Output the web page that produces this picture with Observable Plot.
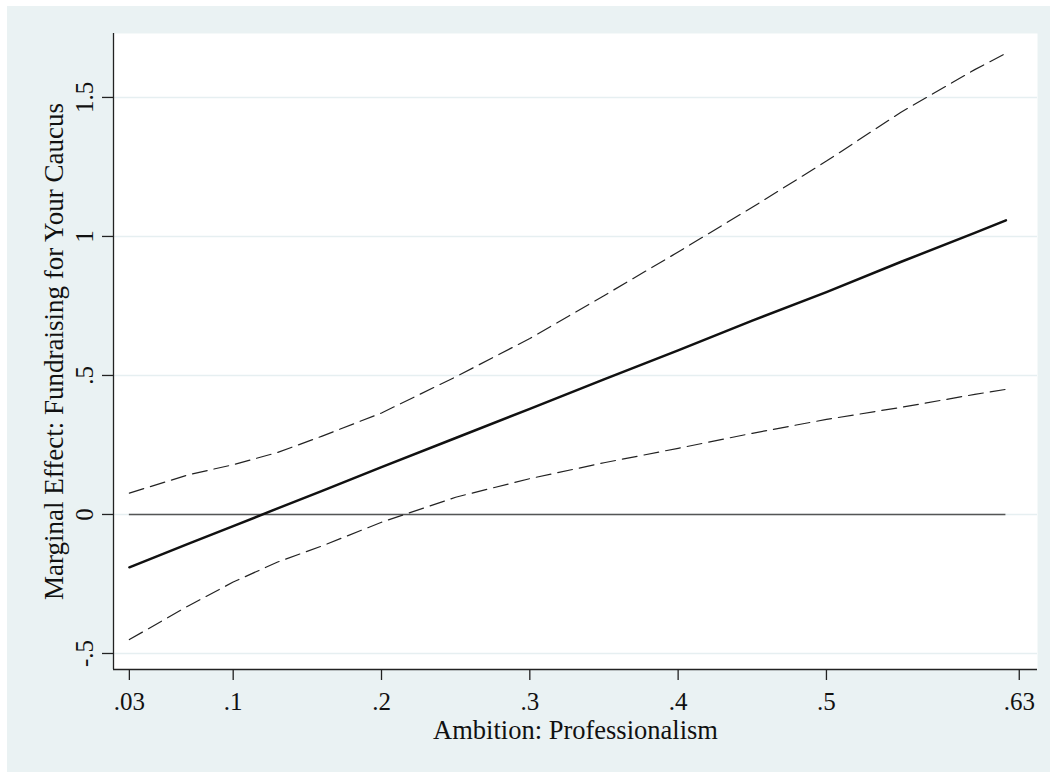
<!DOCTYPE html>
<html>
<head>
<meta charset="utf-8">
<script src="https://cdn.jsdelivr.net/npm/d3@7"></script>
<script src="https://cdn.jsdelivr.net/npm/@observablehq/plot@0.6"></script>
<style>
  html, body { margin: 0; padding: 0; background: #ffffff; }
  #wrap { position: relative; width: 1050px; height: 772px; overflow: hidden; }
  #bg { position: absolute; left: 7px; top: 6px; width: 1043px; height: 766px; background: #eaf2f3; }
  #chart { position: absolute; left: 0; top: 0; }
  #chart text { font-family: 'Liberation Serif', 'Times New Roman', Times, serif !important; font-variant: normal !important; }
</style>
</head>
<body>
<div id="wrap"><div id="bg"></div><div id="chart"></div></div>
<script>
// Data
const xVals     = [0.03, 0.07, 0.10, 0.13, 0.16, 0.20, 0.25, 0.30, 0.35, 0.40, 0.45, 0.50, 0.55, 0.60, 0.621];
const meVals    = [-0.19, -0.105, -0.042, 0.022, 0.085, 0.170, 0.275, 0.380, 0.486, 0.590, 0.697, 0.800, 0.908, 1.013, 1.058];
const upperVals = [0.077, 0.143, 0.179, 0.223, 0.282, 0.365, 0.495, 0.633, 0.787, 0.944, 1.105, 1.271, 1.446, 1.600, 1.659];
const lowerVals = [-0.450, -0.328, -0.243, -0.171, -0.113, -0.028, 0.062, 0.129, 0.186, 0.238, 0.292, 0.342, 0.385, 0.432, 0.450];

const xTicks = [0.03, 0.1, 0.2, 0.3, 0.4, 0.5, 0.63];
const xTickLabels = [".03", ".1", ".2", ".3", ".4", ".5", ".63"];
const yTicks = [-0.5, 0, 0.5, 1, 1.5];
const yTickLabels = ["-.5", "0", ".5", "1", "1.5"];

const xTitle = "Ambition: Professionalism";
const yTitle = "Marginal Effect: Fundraising for Your Caucus";

const rows = xVals.map((x, i) => ({x, me: meVals[i], hi: upperVals[i], lo: lowerVals[i]}));
const xTickRows = xTicks.map((v, i) => ({v, label: xTickLabels[i]}));
const yTickRows = yTicks.map((v, i) => ({v, label: yTickLabels[i]}));

const font = "'Liberation Serif', 'Times New Roman', Times, serif";
const xDomain = [0.0193, 0.6423];
const yDomain = [-0.5576, 1.730];

const chart = Plot.plot({
  width: 1050,
  height: 772,
  marginLeft: 113,
  marginRight: 13,
  marginTop: 33,
  marginBottom: 103,
  style: {background: "transparent", fontFamily: font, overflow: "visible"},
  x: {domain: xDomain, axis: null},
  y: {domain: yDomain, axis: null},
  marks: [
    Plot.frame({fill: "white", stroke: null}),
    Plot.gridY(yTicks, {stroke: "#e6eff1", strokeOpacity: 1, strokeWidth: 1.6}),
    // zero reference line
    Plot.ruleY([0], {x1: xVals[0], x2: xVals[xVals.length - 1], stroke: "#555", strokeWidth: 1.3}),
    // confidence bounds
    Plot.line(rows, {x: "x", y: "hi", stroke: "#222", strokeWidth: 1.2, strokeDasharray: "15,7"}),
    Plot.line(rows, {x: "x", y: "lo", stroke: "#222", strokeWidth: 1.2, strokeDasharray: "15,7"}),
    // marginal effect
    Plot.line(rows, {x: "x", y: "me", stroke: "#111", strokeWidth: 2.5}),
    // axis lines
    Plot.ruleX([xDomain[0]], {stroke: "#222", strokeWidth: 1.3}),
    Plot.ruleY([yDomain[0]], {stroke: "#222", strokeWidth: 1.3}),
    // ticks
    Plot.axisX({ticks: xTicks, tickSize: 11, tickFormat: () => "", stroke: "#222", strokeWidth: 1.3, label: null}),
    Plot.axisY({ticks: yTicks, tickSize: 11, tickFormat: () => "", stroke: "#222", strokeWidth: 1.3, label: null}),
    // x tick labels
    Plot.text(xTickRows, {x: "v", text: "label", frameAnchor: "bottom", dy: 40, lineAnchor: "bottom", fontSize: 25, fontFamily: font, fill: "#111"}),
    // rotated y tick labels
    Plot.text(yTickRows, {y: "v", text: "label", frameAnchor: "left", dx: -21, rotate: -90, textAnchor: "middle", lineAnchor: "bottom", fontSize: 25, fontFamily: font, fill: "#111"}),
    // axis titles
    Plot.text([xTitle], {text: (d) => d, frameAnchor: "bottom", dy: 69, lineAnchor: "bottom", fontSize: 26.5, fontFamily: font, fill: "#111"}),
    Plot.text([yTitle], {text: (d) => d, frameAnchor: "left", dx: -51, rotate: -90, textAnchor: "middle", lineAnchor: "bottom", fontSize: 27, fontFamily: font, fill: "#111"})
  ]
});
document.getElementById("chart").appendChild(chart);
</script>
</body>
</html>
